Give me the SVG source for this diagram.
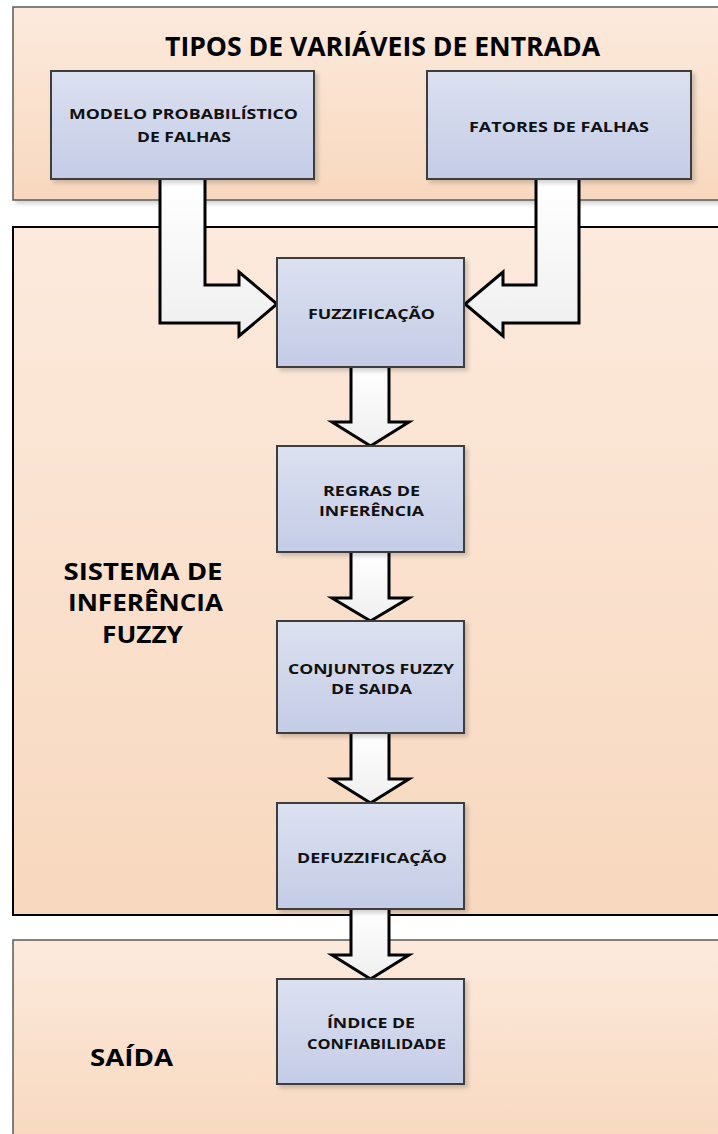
<svg xmlns="http://www.w3.org/2000/svg" width="718" height="1134" viewBox="0 0 718 1134">
<defs>
<linearGradient id="gCont" x1="0" y1="0" x2="0" y2="1">
<stop offset="0" stop-color="#FCEADD"/>
<stop offset="1" stop-color="#F8D8BE"/>
</linearGradient>
<linearGradient id="gBox" x1="0" y1="0" x2="0" y2="1">
<stop offset="0" stop-color="#DCE1F0"/>
<stop offset="1" stop-color="#C4CCE6"/>
</linearGradient>
<linearGradient id="gArrow" x1="0" y1="0" x2="0" y2="1">
<stop offset="0" stop-color="#FFFFFF"/>
<stop offset="1" stop-color="#EFEFEF"/>
</linearGradient>
<filter id="shadow" x="-10%" y="-10%" width="125%" height="125%">
<feDropShadow dx="3" dy="3" stdDeviation="2" flood-color="#000" flood-opacity="0.18"/>
</filter>
</defs>
<style>
.cont{fill:url(#gCont);stroke:#5a5a5a;stroke-width:1.5}
.cont-main{fill:url(#gCont);stroke:#000;stroke-width:2}
.box{fill:url(#gBox);stroke:#3c3c3c;stroke-width:2;filter:url(#shadow)}
.arrow{fill:url(#gArrow);stroke:#000;stroke-width:3;stroke-linejoin:miter}
.big{font-family:"Open Sans","Liberation Sans",sans-serif;font-weight:bold;fill:#000;text-anchor:middle}
.lbl{font-family:"Open Sans","Liberation Sans",sans-serif;font-weight:bold;font-size:15px;fill:#111;text-anchor:middle}
</style>

<g id="container-entrada">
<rect class="cont" x="13" y="7" width="720" height="193" filter="url(#shadow)"/>
<text class="big" x="382.5" y="56" font-size="26" textLength="435" lengthAdjust="spacingAndGlyphs">TIPOS DE VARIÁVEIS DE ENTRADA</text>
</g>
<g id="container-sistema">
<rect class="cont-main" x="13" y="227" width="720" height="688"/>
<text class="big" font-size="23" x="143" y="580" textLength="159" lengthAdjust="spacingAndGlyphs">SISTEMA DE</text>
<text class="big" font-size="23" x="145.5" y="611" textLength="155" lengthAdjust="spacingAndGlyphs">INFERÊNCIA</text>
<text class="big" font-size="23" x="142.5" y="643" textLength="81" lengthAdjust="spacingAndGlyphs">FUZZY</text>
</g>
<g id="container-saida">
<rect class="cont" x="13" y="940" width="720" height="210"/>
<text class="big" font-size="24" x="131.5" y="1066" textLength="83" lengthAdjust="spacingAndGlyphs">SAÍDA</text>
</g>

<g id="connectors">
<path class="arrow" d="M160,180 L160,323 L239,323 L239,336 L277,304 L239,272 L239,285 L205,285 L205,180"/>
<path class="arrow" d="M536,180 L536,285 L503,285 L503,272 L465,304 L503,336 L503,323 L579,323 L579,180"/>
<path class="arrow" d="M351,367 L351,422 L332,422 L370.5,446 L409,422 L389,422 L389,367"/>
<path class="arrow" d="M351,552 L351,598 L332,598 L370.5,621 L409,598 L389,598 L389,552"/>
<path class="arrow" d="M351,733 L351,779 L332,779 L370.5,803 L409,779 L389,779 L389,733"/>
<path class="arrow" d="M351,909 L351,955 L332,955 L370.5,979 L409,955 L389,955 L389,909"/>
</g>

<g id="node-modelo">
<rect class="box" x="51" y="71" width="263" height="108"/>
<text class="lbl" x="183.5" y="119" textLength="229" lengthAdjust="spacingAndGlyphs">MODELO PROBABILÍSTICO</text>
<text class="lbl" x="184" y="142" textLength="94" lengthAdjust="spacingAndGlyphs">DE FALHAS</text>
</g>
<g id="node-fatores">
<rect class="box" x="427" y="71" width="264" height="108"/>
<text class="lbl" x="559" y="132" textLength="180" lengthAdjust="spacingAndGlyphs">FATORES DE FALHAS</text>
</g>
<g id="node-fuzzificacao">
<rect class="box" x="277" y="258" width="187" height="109"/>
<text class="lbl" x="371.5" y="319" textLength="127" lengthAdjust="spacingAndGlyphs">FUZZIFICAÇÃO</text>
</g>
<g id="node-regras">
<rect class="box" x="277" y="446" width="187" height="106"/>
<text class="lbl" x="371.5" y="496" textLength="97" lengthAdjust="spacingAndGlyphs">REGRAS DE</text>
<text class="lbl" x="371.5" y="516" textLength="105" lengthAdjust="spacingAndGlyphs">INFERÊNCIA</text>
</g>
<g id="node-conjuntos">
<rect class="box" x="277" y="621" width="187" height="112"/>
<text class="lbl" x="371" y="674" textLength="166" lengthAdjust="spacingAndGlyphs">CONJUNTOS FUZZY</text>
<text class="lbl" x="371.5" y="694" textLength="81" lengthAdjust="spacingAndGlyphs">DE SAIDA</text>
</g>
<g id="node-defuzzificacao">
<rect class="box" x="277" y="803" width="187" height="106"/>
<text class="lbl" x="372" y="863" textLength="150" lengthAdjust="spacingAndGlyphs">DEFUZZIFICAÇÃO</text>
</g>
<g id="node-indice">
<rect class="box" x="277" y="979" width="187" height="105"/>
<text class="lbl" x="371" y="1028" textLength="88" lengthAdjust="spacingAndGlyphs">ÍNDICE DE</text>
<text class="lbl" x="376.5" y="1049" textLength="139" lengthAdjust="spacingAndGlyphs">CONFIABILIDADE</text>
</g>
</svg>
